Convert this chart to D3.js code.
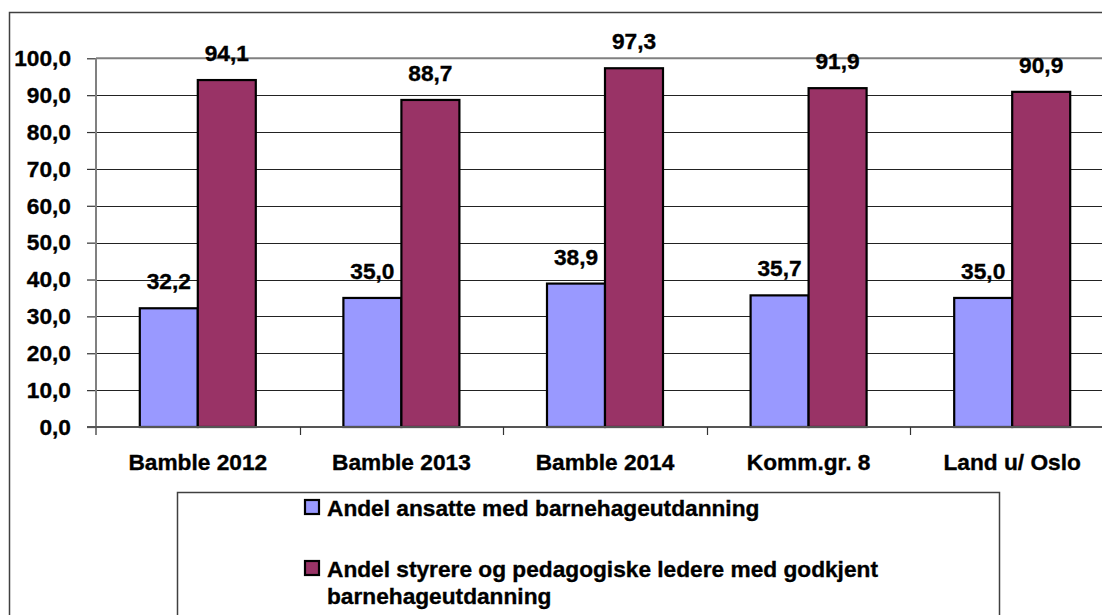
<!DOCTYPE html>
<html>
<head>
  <script type="text/javascript" src="https://d3js.org/d3.v7.min.js"></script>
</head>
<body>
<style type="text/css">
  html,
  body {
    margin: 0px;
    overflow: hidden;
    background: #fff;
  }

  svg text {
    font-family: "Liberation Sans", Arial, sans-serif;
    font-weight: bold;
    fill: #000;
    stroke: #000;
    stroke-width: 0.35px;
  }
</style>

<script>
"use strict";

// Data
const CATEGORIES = ["Bamble 2012", "Bamble 2013", "Bamble 2014", "Komm.gr. 8", "Land u/ Oslo"];
const SERIES = [
  "Andel ansatte med barnehageutdanning",
  "Andel styrere og pedagogiske ledere med godkjent barnehageutdanning"
];
const ANSATTE = [32.2, 35.0, 38.9, 35.7, 35.0];
const STYRERE = [94.1, 88.7, 97.3, 91.9, 90.9];
const Y_TICKS = [0, 10, 20, 30, 40, 50, 60, 70, 80, 90, 100];
const COLORS = ["#9999ff", "#993366"];

// Layout
const WIDTH = 1102;
const HEIGHT = 615;
const PLOT_LEFT = 96;
const PLOT_RIGHT = 1114; // plot runs a little past the right edge of the picture
const PLOT_TOP = 58.3;
const PLOT_BOTTOM = 427;
const BAR_WIDTH = 58;
const FONT_SIZE = 22.7;

const nb = d3.formatLocale({ decimal: ",", thousands: " ", grouping: [3], currency: ["", ""] });
const fmt = nb.format(".1f");

const SVG = d3.select("body")
  .append("svg")
  .attr("width", WIDTH)
  .attr("height", HEIGHT);

// Outer chart frame
SVG.append("rect")
  .attr("x", 9.5)
  .attr("y", 12.5)
  .attr("width", WIDTH + 20)
  .attr("height", HEIGHT + 20)
  .attr("fill", "none")
  .attr("stroke", "#404040")
  .attr("stroke-width", 1.5);

// Scales
const X_SCALE = d3.scaleBand()
  .domain(CATEGORIES)
  .range([PLOT_LEFT, PLOT_RIGHT])
  .padding(0);

const X_INNER = d3.scaleBand()
  .domain([0, 1])
  .range([0, BAR_WIDTH * 2]);

const Y_SCALE = d3.scaleLinear()
  .domain([0, 100])
  .range([PLOT_BOTTOM, PLOT_TOP]);

// Gridlines
SVG.append("g")
  .selectAll("line")
  .data(Y_TICKS.filter(function(d) { return d > 0 && d < 100; }))
  .enter()
  .append("line")
  .attr("x1", PLOT_LEFT)
  .attr("x2", WIDTH)
  .attr("y1", function(d) { return Math.round(Y_SCALE(d)) + 0.5; })
  .attr("y2", function(d) { return Math.round(Y_SCALE(d)) + 0.5; })
  .attr("stroke", "#222")
  .attr("stroke-width", 1);

// Top line at 100
SVG.append("line")
  .attr("x1", PLOT_LEFT)
  .attr("x2", WIDTH)
  .attr("y1", Y_SCALE(100))
  .attr("y2", Y_SCALE(100))
  .attr("stroke", "#808080")
  .attr("stroke-width", 2);

// Y axis
const yAxis = SVG.append("g")
  .attr("transform", "translate(" + PLOT_LEFT + ",0)")
  .call(d3.axisLeft(Y_SCALE).tickValues(Y_TICKS).tickSize(9).tickPadding(16).tickFormat(fmt));

yAxis.select(".domain").remove();
yAxis.selectAll(".tick line").attr("stroke", "#333").attr("stroke-width", 1.2);
yAxis.selectAll(".tick text")
  .attr("font-size", FONT_SIZE)
  .attr("font-family", "Liberation Sans, Arial, sans-serif")
  .attr("font-weight", "bold")
  .attr("fill", "#000");

// Bars
const groups = SVG.append("g")
  .selectAll("g")
  .data(CATEGORIES)
  .enter()
  .append("g")
  .attr("transform", function(d) {
    return "translate(" + (X_SCALE(d) + (X_SCALE.bandwidth() - BAR_WIDTH * 2) / 2) + ",0)";
  });

groups.selectAll("rect")
  .data(function(d, i) { return [ANSATTE[i], STYRERE[i]]; })
  .enter()
  .append("rect")
  .attr("x", function(d, j) { return X_INNER(j); })
  .attr("y", function(d) { return Y_SCALE(d); })
  .attr("width", X_INNER.bandwidth())
  .attr("height", function(d) { return PLOT_BOTTOM - Y_SCALE(d); })
  .attr("fill", function(d, j) { return COLORS[j]; })
  .attr("stroke", "#000")
  .attr("stroke-width", 2.2);

groups.selectAll("text")
  .data(function(d, i) { return [ANSATTE[i], STYRERE[i]]; })
  .enter()
  .append("text")
  .attr("x", function(d, j) { return X_INNER(j) + X_INNER.bandwidth() / 2; })
  .attr("y", function(d) { return Y_SCALE(d) - 19; })
  .attr("text-anchor", "middle")
  .attr("font-size", FONT_SIZE)
  .text(function(d) { return fmt(d); });

// Y axis line and x axis line
SVG.append("line")
  .attr("x1", PLOT_LEFT)
  .attr("x2", PLOT_LEFT)
  .attr("y1", PLOT_TOP)
  .attr("y2", PLOT_BOTTOM + 8)
  .attr("stroke", "#808080")
  .attr("stroke-width", 2);

SVG.append("line")
  .attr("x1", PLOT_LEFT - 9)
  .attr("x2", WIDTH)
  .attr("y1", PLOT_BOTTOM)
  .attr("y2", PLOT_BOTTOM)
  .attr("stroke", "#555")
  .attr("stroke-width", 2);

// Category ticks
SVG.append("g")
  .selectAll("line")
  .data(CATEGORIES.slice(1))
  .enter()
  .append("line")
  .attr("x1", function(d) { return Math.round(X_SCALE(d)) + 0.5; })
  .attr("x2", function(d) { return Math.round(X_SCALE(d)) + 0.5; })
  .attr("y1", PLOT_BOTTOM)
  .attr("y2", PLOT_BOTTOM + 8)
  .attr("stroke", "#333")
  .attr("stroke-width", 1.2);

// Category labels
SVG.append("g")
  .selectAll("text")
  .data(CATEGORIES)
  .enter()
  .append("text")
  .attr("x", function(d) { return X_SCALE(d) + X_SCALE.bandwidth() / 2; })
  .attr("y", 470)
  .attr("text-anchor", "middle")
  .attr("font-size", FONT_SIZE)
  .text(function(d) { return d; });

// Legend
const LEGEND = SVG.append("g");

LEGEND.append("rect")
  .attr("x", 177.5)
  .attr("y", 492.5)
  .attr("width", 822)
  .attr("height", 140)
  .attr("fill", "#fff")
  .attr("stroke", "#404040")
  .attr("stroke-width", 1.5);

const LEGEND_LINES = [
  [SERIES[0]],
  ["Andel styrere og pedagogiske ledere med godkjent", "barnehageutdanning"]
];
const LEGEND_Y = [516, 577];

LEGEND_LINES.forEach(function(lines, i) {
  LEGEND.append("rect")
    .attr("x", 305)
    .attr("y", LEGEND_Y[i] - 16)
    .attr("width", 14)
    .attr("height", 14)
    .attr("fill", COLORS[i])
    .attr("stroke", "#000")
    .attr("stroke-width", 2.2);

  const t = LEGEND.append("text")
    .attr("x", 327)
    .attr("y", LEGEND_Y[i])
    .attr("font-size", FONT_SIZE);

  t.selectAll("tspan")
    .data(lines)
    .enter()
    .append("tspan")
    .attr("x", 327)
    .attr("dy", function(d, k) { return k === 0 ? 0 : 27; })
    .text(function(d) { return d; });
});
</script>
</body>
</html>
